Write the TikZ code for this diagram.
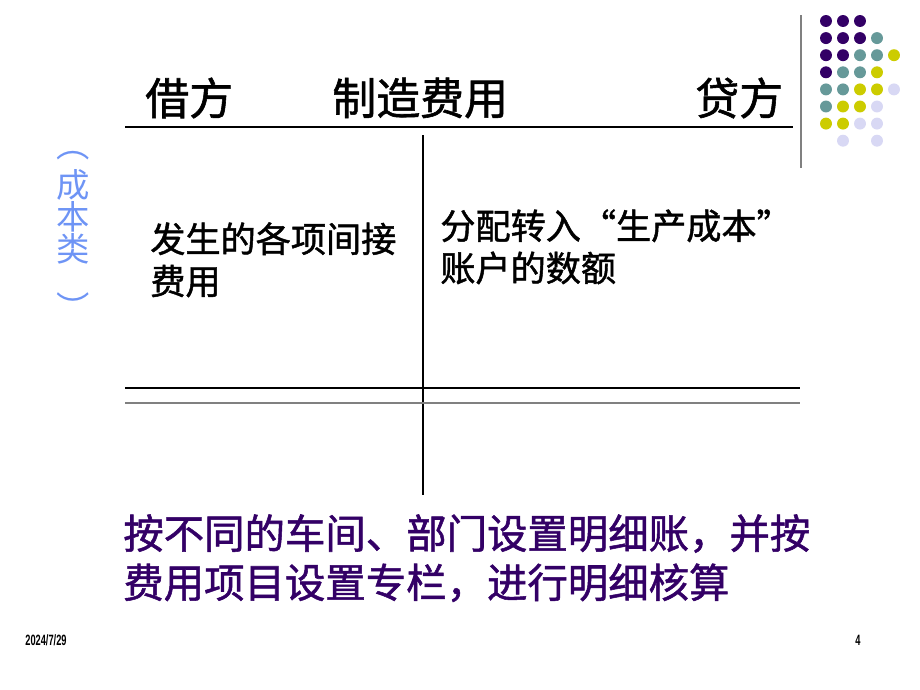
\documentclass[tikz,border=0pt]{standalone}
\usepackage{fontspec}
\newfontfamily\cjk{Noto Sans CJK SC}
\newfontfamily\cjkmid[FakeBold=1.3]{Noto Sans CJK SC}
\newfontfamily\footfont{Liberation Sans}
\definecolor{dotPurple}{HTML}{330066}
\definecolor{dotTeal}{HTML}{669999}
\definecolor{dotYellow}{HTML}{CCCC00}
\definecolor{dotLilac}{HTML}{D8D8F4}
\definecolor{sideBlue}{HTML}{6E94F5}
\tikzset{
  headtext/.style={anchor=west, inner sep=0pt, font=\cjkmid\fontsize{25pt}{28pt}\selectfont},
  bodytext/.style={anchor=north west, inner sep=0pt, align=left, font=\cjkmid\fontsize{20pt}{24pt}\selectfont},
  notetext/.style={anchor=north west, inner sep=0pt, align=left, text=dotPurple, font=\cjkmid\fontsize{23pt}{26pt}\selectfont},
  foottext/.style={inner sep=0pt, xscale=0.62, font=\footfont\bfseries\fontsize{8.5pt}{9pt}\selectfont},
  dot/.style={circle, inner sep=0pt, minimum size=6.8pt},
}
\begin{document}
\begin{tikzpicture}[x=0.02cm, y=-0.02cm]

	\useasboundingbox (0,0) rectangle (920,690);
	
	%Dots in the corner
	\draw[gray, line width=1.2pt] (801,15) -- (801,168);
	\foreach \col/\row/\clr in {0/0/dotPurple, 1/0/dotPurple, 2/0/dotPurple,
		0/1/dotPurple, 1/1/dotPurple, 2/1/dotPurple, 3/1/dotTeal,
		0/2/dotPurple, 1/2/dotPurple, 2/2/dotTeal, 3/2/dotTeal, 4/2/dotYellow,
		0/3/dotPurple, 1/3/dotTeal, 2/3/dotTeal, 3/3/dotYellow,
		0/4/dotTeal, 1/4/dotTeal, 2/4/dotYellow, 3/4/dotYellow, 4/4/dotLilac,
		0/5/dotTeal, 1/5/dotYellow, 2/5/dotYellow, 3/5/dotLilac,
		0/6/dotYellow, 1/6/dotYellow, 2/6/dotLilac, 3/6/dotLilac,
		1/7/dotLilac, 3/7/dotLilac}
		\node[dot, fill=\clr] at (826+17*\col, 21+17.1*\row) {};
	
	%Account heading
	\node[headtext] (debit) at (145,98) {借方};
	\node[headtext] (account) at (332,98) {制造费用};
	\node[headtext] (credit) at (695,98) {贷方};
	
	%T-account lines
	\draw[line width=0.8pt] (125,127) -- (793,127);
	\draw[line width=0.6pt] (423,135) -- (423,495);
	\draw[line width=0.6pt] (125,388) -- (800,388);
	\draw[line width=0.8pt, gray] (125,403) -- (800,403);
	
	%Side label
	\node[anchor=north, inner sep=0pt, align=center, text=sideBlue, font=\cjk\fontsize{19pt}{18pt}\selectfont] (kind) at (73,151) {︵\\[5pt]成\\本\\类\\[16pt]︶};
	
	%Entries
	\node[bodytext] (leftEntry) at (150,222) {发生的各项间接\\费用};
	\node[bodytext] (rightEntry) at (440,209) {分配转入“生产成本”\\账户的数额};
	
	%Note
	\node[notetext] (note) at (123,514) {按不同的车间、部门设置明细账，并按\\[2pt]费用项目设置专栏，进行明细核算};
	
	%Footer
	\node[foottext] (date) at (46,640) {2024/7/29};
	\node[foottext] (page) at (858,640) {4};
	
\end{tikzpicture}
\end{document}
